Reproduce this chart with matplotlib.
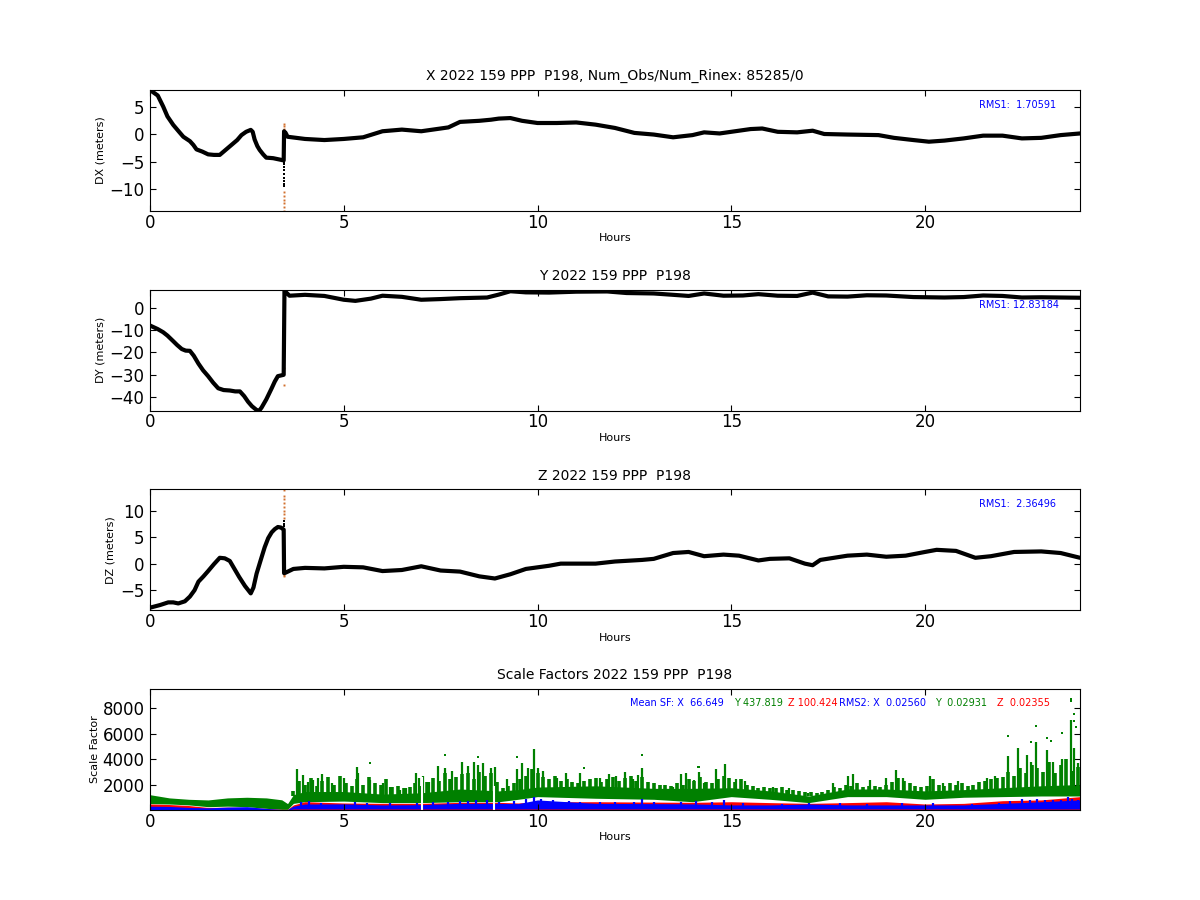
#!/usr/bin/env python
# -*- coding: utf-8 -*-
import matplotlib
matplotlib.use('Agg')
import matplotlib.pyplot as plt

# position residuals, before and after the jump at 3.46 h
x_hours = [0, .2, .34, .45, .6, .75, .86, 1.03, 1.12, 1.2, 1.35, 1.5, 1.65, 1.8, 2.0, 2.15, 2.25, 2.36, 2.48, 2.6,
           2.65, 2.7, 2.77, 2.83, 2.92, 3.0, 3.1, 3.18, 3.45, 3.46, 3.5,
           3.55, 4, 4.5, 5, 5.5, 6, 6.5, 7, 7.5, 7.7, 8, 8.5, 8.8, 9, 9.3, 9.6, 10, 10.5, 11, 11.5, 12, 12.5, 13,
           13.5, 14, 14.3, 14.7, 15, 15.5, 15.8, 16.2, 16.7, 17.1, 17.4, 18, 18.8, 19.2, 19.7, 20.1, 20.5, 21,
           21.5, 22, 22.5, 23, 23.5, 24]
x_vals = [8, 7, 5, 3.2, 1.65, .4, -.5, -1.3, -2.0, -2.8, -3.2, -3.7, -3.8, -3.8, -2.6, -1.7, -1.1, -.2, .4, .75,
          .4, -1.0, -2.2, -2.9, -3.7, -4.3, -4.35, -4.4, -4.8, .5, .2,
          -.5, -.9, -1.1, -.9, -.6, .5, .8, .5, 1.0, 1.2, 2.2, 2.4, 2.6, 2.8, 2.9, 2.4, 2.0, 2.0, 2.1, 1.7, 1.1,
          .2, -.1, -.6, -.2, .3, .1, .4, .9, 1.0, .4, .3, .6, 0, -.1, -.2, -.7, -1.1, -1.4, -1.2, -.8, -.3, -.3,
          -.8, -.7, -.2, .1]
x_black_jump = [-5, -5.5, -6, -6.6, -7.2, -8, -8.5, -9, -9.5]
x_orange_jump = [1.8, 1.4, 1.0, .5, -10.5, -11.2, -12, -12.6, -13.2, -14]

y_hours = [0, .2, .34, .45, .6, .7, .82, .92, 1.03, 1.13, 1.25, 1.37, 1.5, 1.63, 1.76, 1.9, 2.06, 2.2, 2.32, 2.43,
           2.53, 2.63, 2.75, 2.82, 2.88, 3.0, 3.14, 3.22, 3.3, 3.45, 3.47, 3.6, 4,
           4.5, 5, 5.3, 5.7, 6, 6.5, 7, 7.5, 8, 8.7, 9, 9.3, 9.7, 10.3, 11, 11.8, 12.3, 13, 13.5, 13.9, 14.3, 14.8,
           15.3, 15.7, 16.2, 16.7, 17.1, 17.5, 18, 18.5, 19, 19.7, 20.5, 21, 21.5, 22, 22.5, 23, 24]
y_vals = [-8, -9.6, -11, -12.5, -15, -16.7, -18.5, -19.2, -19.3, -21.5, -25, -28, -30.6, -33.5, -36, -36.8, -37,
          -37.4, -37.4, -39.5, -42, -44, -45.7, -46, -44.6, -41, -36, -33, -30.6, -30, 7.5, 5.3,
          5.7, 5.2, 3.5, 3, 4, 5.3, 4.8, 3.5, 3.8, 4.2, 4.5, 5.8, 7.3, 6.8, 6.7, 7.1, 7.2, 6.5, 6.3, 5.7, 5.2, 6.3,
          5.3, 5.4, 6, 5.3, 5.2, 6.7, 5, 4.9, 5.5, 5.4, 4.7, 4.5, 4.7, 5.4, 5.2, 4.5, 4.6, 4.4]
y_black_jump = [-11, -13, -15, -17, -19, -21, -23, -25]
y_orange_jump = [-27, -34.5]

z_hours = [0, .26, .47, .6, .73, .9, 1.03, 1.15, 1.25, 1.38, 1.5, 1.65, 1.8, 1.93, 2.06, 2.18, 2.3, 2.45, 2.6, 2.67,
           2.75, 2.85, 2.96, 3.05, 3.14, 3.22, 3.3, 3.38, 3.45, 3.46, 3.5, 3.7, 4,
           4.5, 5, 5.5, 6, 6.5, 7, 7.5, 8, 8.5, 8.9, 9.3, 9.7, 10.3, 10.6, 11.5, 12, 12.7, 13, 13.5, 13.9, 14.3,
           14.8, 15.2, 15.7, 16, 16.5, 16.9, 17.1, 17.3, 18, 18.5, 19, 19.5, 20, 20.3, 20.8, 21.3, 21.7, 22.3, 23,
           23.5, 24]
z_vals = [-8.3, -7.8, -7.3, -7.3, -7.5, -7.1, -6.2, -5, -3.4, -2.4, -1.4, -.1, 1.1, 1, .5, -1, -2.5, -4.2, -5.6, -4.5,
          -1.9, .5, 3.1, 4.8, 5.9, 6.5, 6.9, 6.8, 6.4, -1.8, -1.7, -1,
          -.8, -.9, -.6, -.7, -1.4, -1.2, -.5, -1.3, -1.5, -2.4, -2.8, -2, -1, -.4, 0, 0, .4, .7, .9, 2, 2.2, 1.4,
          1.7, 1.5, .6, .9, 1, 0, -.3, .7, 1.5, 1.7, 1.3, 1.5, 2.2, 2.6, 2.4, 1.1, 1.4, 2.2, 2.3, 2, 1.1]
z_black_jump = [6.4, 7, 7.5, 8]
z_orange_jump = [8.6, 9.3, 10, 10.7, 11.4, 12.1, 12.8, 13.8, -2.1, -2.4]

# scale factors
sf_hours = [0, .5, 1, 1.5, 2, 2.5, 3, 3.4, 3.55, 3.7, 4, 5, 6, 7, 8, 9, 9.5, 10, 11.5, 13, 14, 15, 16, 17, 18, 19,
            20, 21, 22, 23, 24]
green_low = [500, 470, 400, 260, 300, 260, 130, 50, 50, 520, 650, 700, 580, 580, 650, 650, 840, 1050, 920, 840,
             650, 1050, 840, 580, 1050, 1050, 840, 1000, 1050, 1100, 1100]
green_top = [1200, 950, 840, 790, 950, 1000, 950, 800, 500, 1200, 1450, 1450, 1250, 1350, 1650, 1500, 1600, 1800,
             1900, 1700, 1700, 1750, 1500, 1100, 1650, 1650, 1500, 1600, 1750, 1900, 2000]
red_top = [470, 430, 350, 200, 220, 200, 120, 50, 50, 400, 650, 550, 520, 520, 600, 600, 550, 640, 650, 620, 600,
           650, 580, 520, 580, 650, 470, 520, 730, 790, 1050]
blue_top = [300, 280, 200, 170, 230, 260, 120, 40, 40, 300, 470, 480, 400, 420, 520, 520, 500, 790, 520, 500, 480,
            400, 400, 470, 400, 400, 400, 400, 520, 650, 790]
blue_low = [0, 0, 0, 0, 0, 0, 0, 0, 0, 80, 80, 80, 80, 80, 80, 80, 80, 80, 80, 80, 80, 80, 80, 80, 80, 80, 80, 80,
            80, 80, 80]

# tall isolated bars of the Y scale factor
spike_hours = [3.8, 3.95, 4.08, 4.2, 4.34, 4.45, 4.7, 5, 5.33, 5.37, 5.67, 6, 6.2, 6.45, 6.6, 6.87, 6.95, 7.04, 7.2,
               7.43, 7.6, 7.8, 8.05, 8.2, 8.35, 8.46, 8.6, 8.8, 8.9, 9.2, 9.46, 9.6, 9.75, 9.9, 10, 10.15, 10.5,
               10.73, 10.9, 11.1, 11.6, 11.85, 12.03, 12.25, 12.46, 12.6, 12.7, 13.15, 13.5, 13.71, 13.84, 14.05,
               14.16, 14.3, 14.6, 14.83, 15.13, 15.35, 15.7, 16.07, 16.5, 16.98, 17.63, 18, 18.14, 18.57, 19, 19.25,
               19.44, 20.13, 20.47, 20.86, 21.59, 21.8, 22.15, 22.39, 22.63, 22.73, 22.87, 23.14, 23.3, 23.53, 23.76,
               23.85, 23.96]
spike_vals = [3200, 2760, 2200, 2370, 2500, 2840, 2100, 2500, 3370, 2900, 2370, 2100, 1840, 1600, 1700, 2900, 2500,
              2630, 2200, 3420, 3300, 3030, 3800, 3470, 3800, 3500, 3680, 3300, 3400, 2450, 3200, 3700, 3300, 4790,
              3300, 3030, 2500, 2900, 2100, 2900, 2500, 2840, 2630, 2950, 2420, 2760, 3290, 1970, 1790, 2840, 2900,
              2370, 2950, 2100, 3210, 3630, 2420, 2300, 1700, 1840, 1700, 1320, 2100, 2630, 2840, 2370, 2500, 3160,
              2500, 2630, 2100, 2240, 2500, 2630, 4260, 4870, 4340, 3800, 5300, 4700, 3800, 4000, 7100, 4870, 3700]

# the shorter bars that make the upper edge of the green band jagged
jag_hours = [3.7, 3.85, 4.0, 4.15, 4.3, 4.45, 4.6, 4.75, 4.9, 5.05,
             5.2, 5.35, 5.5, 5.65, 5.8, 5.95, 6.1, 6.25, 6.4, 6.55,
             6.7, 6.85, 7.0, 7.15, 7.3, 7.45, 7.6, 7.75, 7.9, 8.05,
             8.2, 8.35, 8.5, 8.65, 8.8, 8.95, 9.1, 9.25, 9.4, 9.55,
             9.7, 9.85, 10.0, 10.15, 10.3, 10.45, 10.6, 10.75, 10.9, 11.05,
             11.2, 11.35, 11.5, 11.65, 11.8, 11.95, 12.1, 12.25, 12.4, 12.55,
             12.7, 12.85, 13.0, 13.15, 13.3, 13.45, 13.6, 13.75, 13.9, 14.05,
             14.2, 14.35, 14.5, 14.65, 14.8, 14.95, 15.1, 15.25, 15.4, 15.55,
             15.7, 15.85, 16.0, 16.15, 16.3, 16.45, 16.6, 16.75, 16.9, 17.05,
             17.2, 17.35, 17.5, 17.65, 17.8, 17.95, 18.1, 18.25, 18.4, 18.55,
             18.7, 18.85, 19.0, 19.15, 19.3, 19.45, 19.6, 19.75, 19.9, 20.05,
             20.2, 20.35, 20.5, 20.65, 20.8, 20.95, 21.1, 21.25, 21.4, 21.55,
             21.7, 21.85, 22.0, 22.15, 22.3, 22.45, 22.6, 22.75, 22.9, 23.05,
             23.2, 23.35, 23.5, 23.65, 23.8, 23.95]
jag_vals = [1500, 2300, 2000, 2500, 1900, 2300, 2600, 2000, 2700, 2100,
            1900, 2400, 2000, 2600, 2100, 2000, 2400, 1800, 1900, 1700,
            1800, 2100, 1900, 2200, 2500, 2300, 2900, 2400, 2600, 2800,
            2900, 2400, 3000, 2700, 2900, 2200, 1700, 1900, 2100, 2400,
            2700, 3200, 2900, 2600, 2400, 2700, 2300, 2400, 2200, 2100,
            2300, 2400, 2500, 2200, 2400, 2600, 2300, 2500, 2700, 2300,
            2600, 2200, 2100, 2000, 2000, 1900, 2100, 2000, 2400, 2300,
            2600, 2200, 2100, 2400, 2700, 2500, 2200, 2400, 2000, 1900,
            1700, 1800, 1750, 1700, 1800, 1600, 1550, 1500, 1450, 1400,
            1300, 1450, 1600, 1800, 1700, 2000, 1900, 2100, 1800, 1850,
            1900, 1800, 2000, 2200, 2500, 2300, 2100, 1900, 1800, 1900,
            2400, 2000, 1900, 2100, 2000, 2100, 1900, 2000, 2200, 2300,
            2400, 2500, 2600, 3000, 2700, 3300, 2900, 3500, 3300, 3000,
            3800, 2900, 3500, 4000, 3100, 3400]
dot_hours = [5.67, 7.62, 8.46, 9.46, 11.2, 12.7, 14.16, 14.13, 22.15, 22.73, 22.87, 23.14, 23.25, 23.53, 23.76,
             23.76, 23.85, 23.85, 23.9]
dot_vals = [3680, 4340, 4200, 4150, 3290, 4340, 3370, 3370, 5790, 5340, 6580, 5660, 5450, 6050, 8740, 8550, 7550,
            6970, 6500]
gap_hours = [7.03, 8.87]
gap_tops = [2600, 1900]

# bars poking out of the blue band
blue_spike_hours = [3.9, 4.1, 4.4, 5.3, 5.6, 6.2, 6.9, 7.3, 7.7, 8.0, 8.2, 8.4, 8.7, 9.0, 9.4, 9.7, 9.9, 10.1, 10.4,
                    10.8, 11.1, 11.6, 12.0, 12.5, 12.7, 13, 13.7, 14.1, 14.5, 14.8, 15.3, 16.3, 17, 17.8, 18.5, 19.4,
                    20.2, 21.2, 21.9, 22.2, 22.5, 22.7, 22.9, 23.1, 23.3, 23.5, 23.7, 23.8, 23.95]
blue_spike_vals = [620, 700, 550, 600, 520, 580, 550, 620, 640, 700, 720, 750, 780, 600, 700, 850, 1000, 850, 750,
                   720, 620, 650, 600, 620, 880, 600, 640, 700, 650, 800, 520, 480, 560, 520, 500, 560,
                   520, 480, 560, 680, 860, 800, 900, 820, 760, 780, 1050, 900, 800]

hour_ticks = [0, 5, 10, 15, 20]
jump_hour = 3.46


def position_panel(ax, title, ylabel, rms, hours, vals, black_jump, orange_jump, ylim, yticks):
    ax.plot([jump_hour] * len(orange_jump), orange_jump, ls='none', marker='s', ms=1.4, mew=0, color='#d2702e')
    ax.plot(hours, vals, color='k', lw=3, solid_capstyle='round', solid_joinstyle='round')
    ax.plot([jump_hour] * len(black_jump), black_jump, ls='none', marker='s', ms=1.8, mew=0, color='k')
    ax.set_ylim(ylim)
    ax.set_yticks(yticks)
    ax.set_ylabel(ylabel, fontsize=8, labelpad=3)
    ax.text(.891, .85, rms, color='b', fontsize=7, transform=ax.transAxes)
    finish(ax, title)


def finish(ax, title):
    ax.set_xlim(0, 24)
    ax.set_xticks(hour_ticks)
    ax.tick_params(labelsize=12, direction='in', top=True, right=True, length=4, pad=4)
    ax.tick_params(axis='x', pad=2)
    ax.set_xlabel('Hours', fontsize=8, labelpad=1)
    ax.set_title(title, fontsize=10, pad=7)


fig, axes = plt.subplots(4, 1, figsize=(12, 9), dpi=100)
fig.subplots_adjust(left=.125, right=.9, top=.9, bottom=.1, hspace=.65)

position_panel(axes[0], 'X 2022 159 PPP  P198, Num_Obs/Num_Rinex: 85285/0', 'DX (meters)', 'RMS1:  1.70591',
               x_hours, x_vals, x_black_jump, x_orange_jump, (-14, 8), [-10, -5, 0, 5])
position_panel(axes[1], 'Y 2022 159 PPP  P198', 'DY (meters)', 'RMS1: 12.83184',
               y_hours, y_vals, y_black_jump, y_orange_jump, (-46, 8), [-40, -30, -20, -10, 0])
position_panel(axes[2], 'Z 2022 159 PPP  P198', 'DZ (meters)', 'RMS1:  2.36496',
               z_hours, z_vals, z_black_jump, z_orange_jump, (-8.8, 14), [-5, 0, 5, 10])

ax = axes[3]
ax.fill_between(sf_hours, green_low, green_top, color='g', lw=0)
ax.vlines(jag_hours, 1100, jag_vals, color='g', lw=2.6)
ax.vlines(spike_hours, 1100, spike_vals, color='g', lw=1.6)
ax.plot(dot_hours, dot_vals, ls='none', marker='s', ms=2, mew=0, color='g')
ax.vlines(gap_hours, 0, gap_tops, color='w', lw=1.5)
ax.fill_between(sf_hours, 0, red_top, color='r', lw=0)
ax.fill_between(sf_hours, blue_low, blue_top, color='b', lw=0)
ax.vlines(blue_spike_hours, 100, blue_spike_vals, color='b', lw=1.6)
ax.set_ylim(0, 9500)
ax.set_yticks([2000, 4000, 6000, 8000])
ax.set_ylabel('Scale Factor', fontsize=8, labelpad=2)
labels = ['Mean SF: X  66.649', 'Y 437.819', 'Z 100.424', 'RMS2: X  0.02560', 'Y  0.02931', 'Z  0.02355']
label_x = [.516, .628, .686, .741, .844, .911]
label_colors = ['b', 'g', 'r', 'b', 'g', 'r']
for s, lx, c in zip(labels, label_x, label_colors):
    ax.text(lx, .86, s, color=c, fontsize=7, transform=ax.transAxes)
finish(ax, 'Scale Factors 2022 159 PPP  P198')

fig.savefig('out.png', facecolor='w')
